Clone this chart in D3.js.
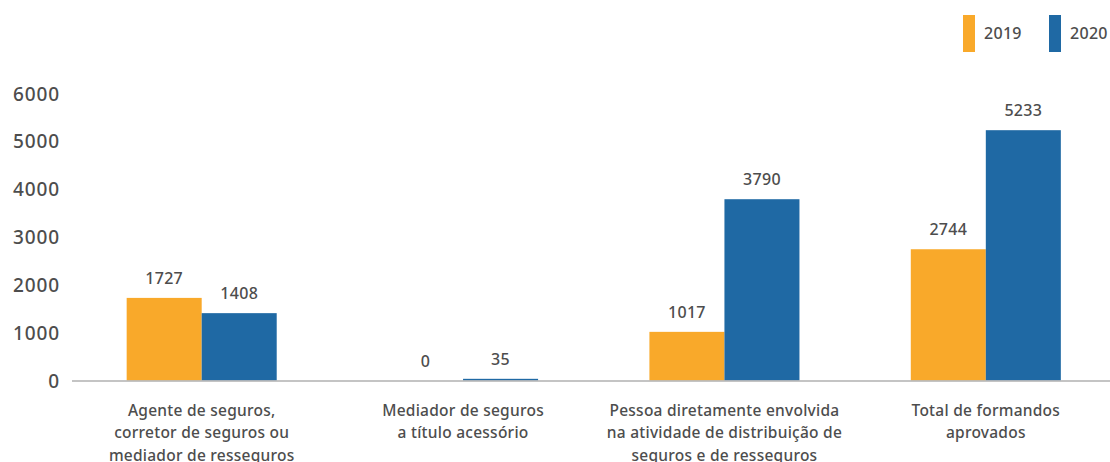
<!DOCTYPE html>
<html><head><meta charset="utf-8">
<script src="https://cdn.jsdelivr.net/npm/d3@7"></script>
<style>body{margin:0;background:#fff;} text{font-family:"Noto Sans",sans-serif;fill:#4d4d4d;font-weight:500;}</style>
</head><body><svg id="c" width="1110" height="462"></svg>
<script>
const categories = [
  ["Agente de seguros,", "corretor de seguros ou", "mediador de resseguros"],
  ["Mediador de seguros", "a título acessório"],
  ["Pessoa diretamente envolvida", "na atividade de distribuição de", "seguros e de resseguros"],
  ["Total de formandos", "aprovados"]
];
const seriesNames = ["2019", "2020"];
const values2019 = [1727, 0, 1017, 2744];
const values2020 = [1408, 35, 3790, 5233];
const yTicks = [0, 1000, 2000, 3000, 4000, 5000, 6000];
const colors = ["#F9A92A", "#1F69A4"];

const svg = d3.select("#c");
const catIdx = categories.map((d, i) => i);
const x0 = d3.scaleBand().domain(catIdx).range([71, 1116.5]).padding(0);
const x1 = d3.scaleBand().domain(seriesNames).range([0, x0.bandwidth()]).paddingInner(0).paddingOuter(0.742);
const y = d3.scaleLinear().domain([0, 6000]).range([380.5, 93.5]);

// y ticks
const yAxis = svg.append("g").attr("transform", "translate(60,0)")
  .call(d3.axisLeft(y).tickValues(yTicks).tickSize(0).tickPadding(0).tickFormat(d3.format("d")));
yAxis.select(".domain").remove();
yAxis.selectAll("text").style("font-size", "19px").style("letter-spacing", "0.9px").attr("dy", "0.35em")
  .style("font-family", "'Noto Sans',sans-serif").style("fill", "#4d4d4d");

const data = catIdx.map(i => [values2019[i], values2020[i]]);
const groups = svg.append("g").selectAll("g").data(data).join("g")
  .attr("transform", (d, i) => `translate(${x0(i)},0)`);
groups.selectAll("rect").data(d => d.map((v, j) => ({v, s: seriesNames[j], j})))
  .join("rect")
  .attr("x", d => x1(d.s)).attr("width", x1.bandwidth())
  .attr("y", d => y(d.v)).attr("height", d => y(0) - y(d.v))
  .attr("fill", d => colors[d.j]);
groups.selectAll("text.v").data(d => d.map((v, j) => ({v, s: seriesNames[j], j})))
  .join("text").attr("class", "v")
  .attr("x", d => x1(d.s) + x1.bandwidth() / 2)
  .attr("y", d => y(d.v) - 14)
  .attr("text-anchor", "middle").style("font-size", "16px").style("letter-spacing", "0.3px")
  .text(d => d.v);

// x axis line
svg.append("line").attr("x1", 72).attr("x2", 1110).attr("y1", y(0) + 0.5).attr("y2", y(0) + 0.5)
  .attr("stroke", "#b0b0b0").attr("stroke-width", 1.5);

// category labels
const xAxis = svg.append("g").attr("transform", `translate(0,${y(0)})`)
  .call(d3.axisBottom(x0).tickSize(0).tickFormat(""));
xAxis.select(".domain").remove();
xAxis.selectAll(".tick").each(function(i) {
  const t = d3.select(this).append("text").attr("text-anchor", "middle")
    .style("font-size", "15.5px").style("letter-spacing", "0.25px")
    .style("font-family", "'Noto Sans',sans-serif").style("fill", "#4d4d4d").style("font-weight", "500");
  categories[i].forEach((line, k) => {
    t.append("tspan").attr("x", 0).attr("y", 35 + k * 22.5).text(line);
  });
});

// legend
const leg = svg.append("g");
const legX = [963, 1049];
seriesNames.forEach((s, j) => {
  leg.append("rect").attr("x", legX[j]).attr("y", 15).attr("width", 12).attr("height", 37).attr("fill", colors[j]);
  leg.append("text").attr("x", legX[j] + 21).attr("y", 39).style("font-size", "16px").style("letter-spacing", "0.3px").text(s);
});
</script></body></html>
